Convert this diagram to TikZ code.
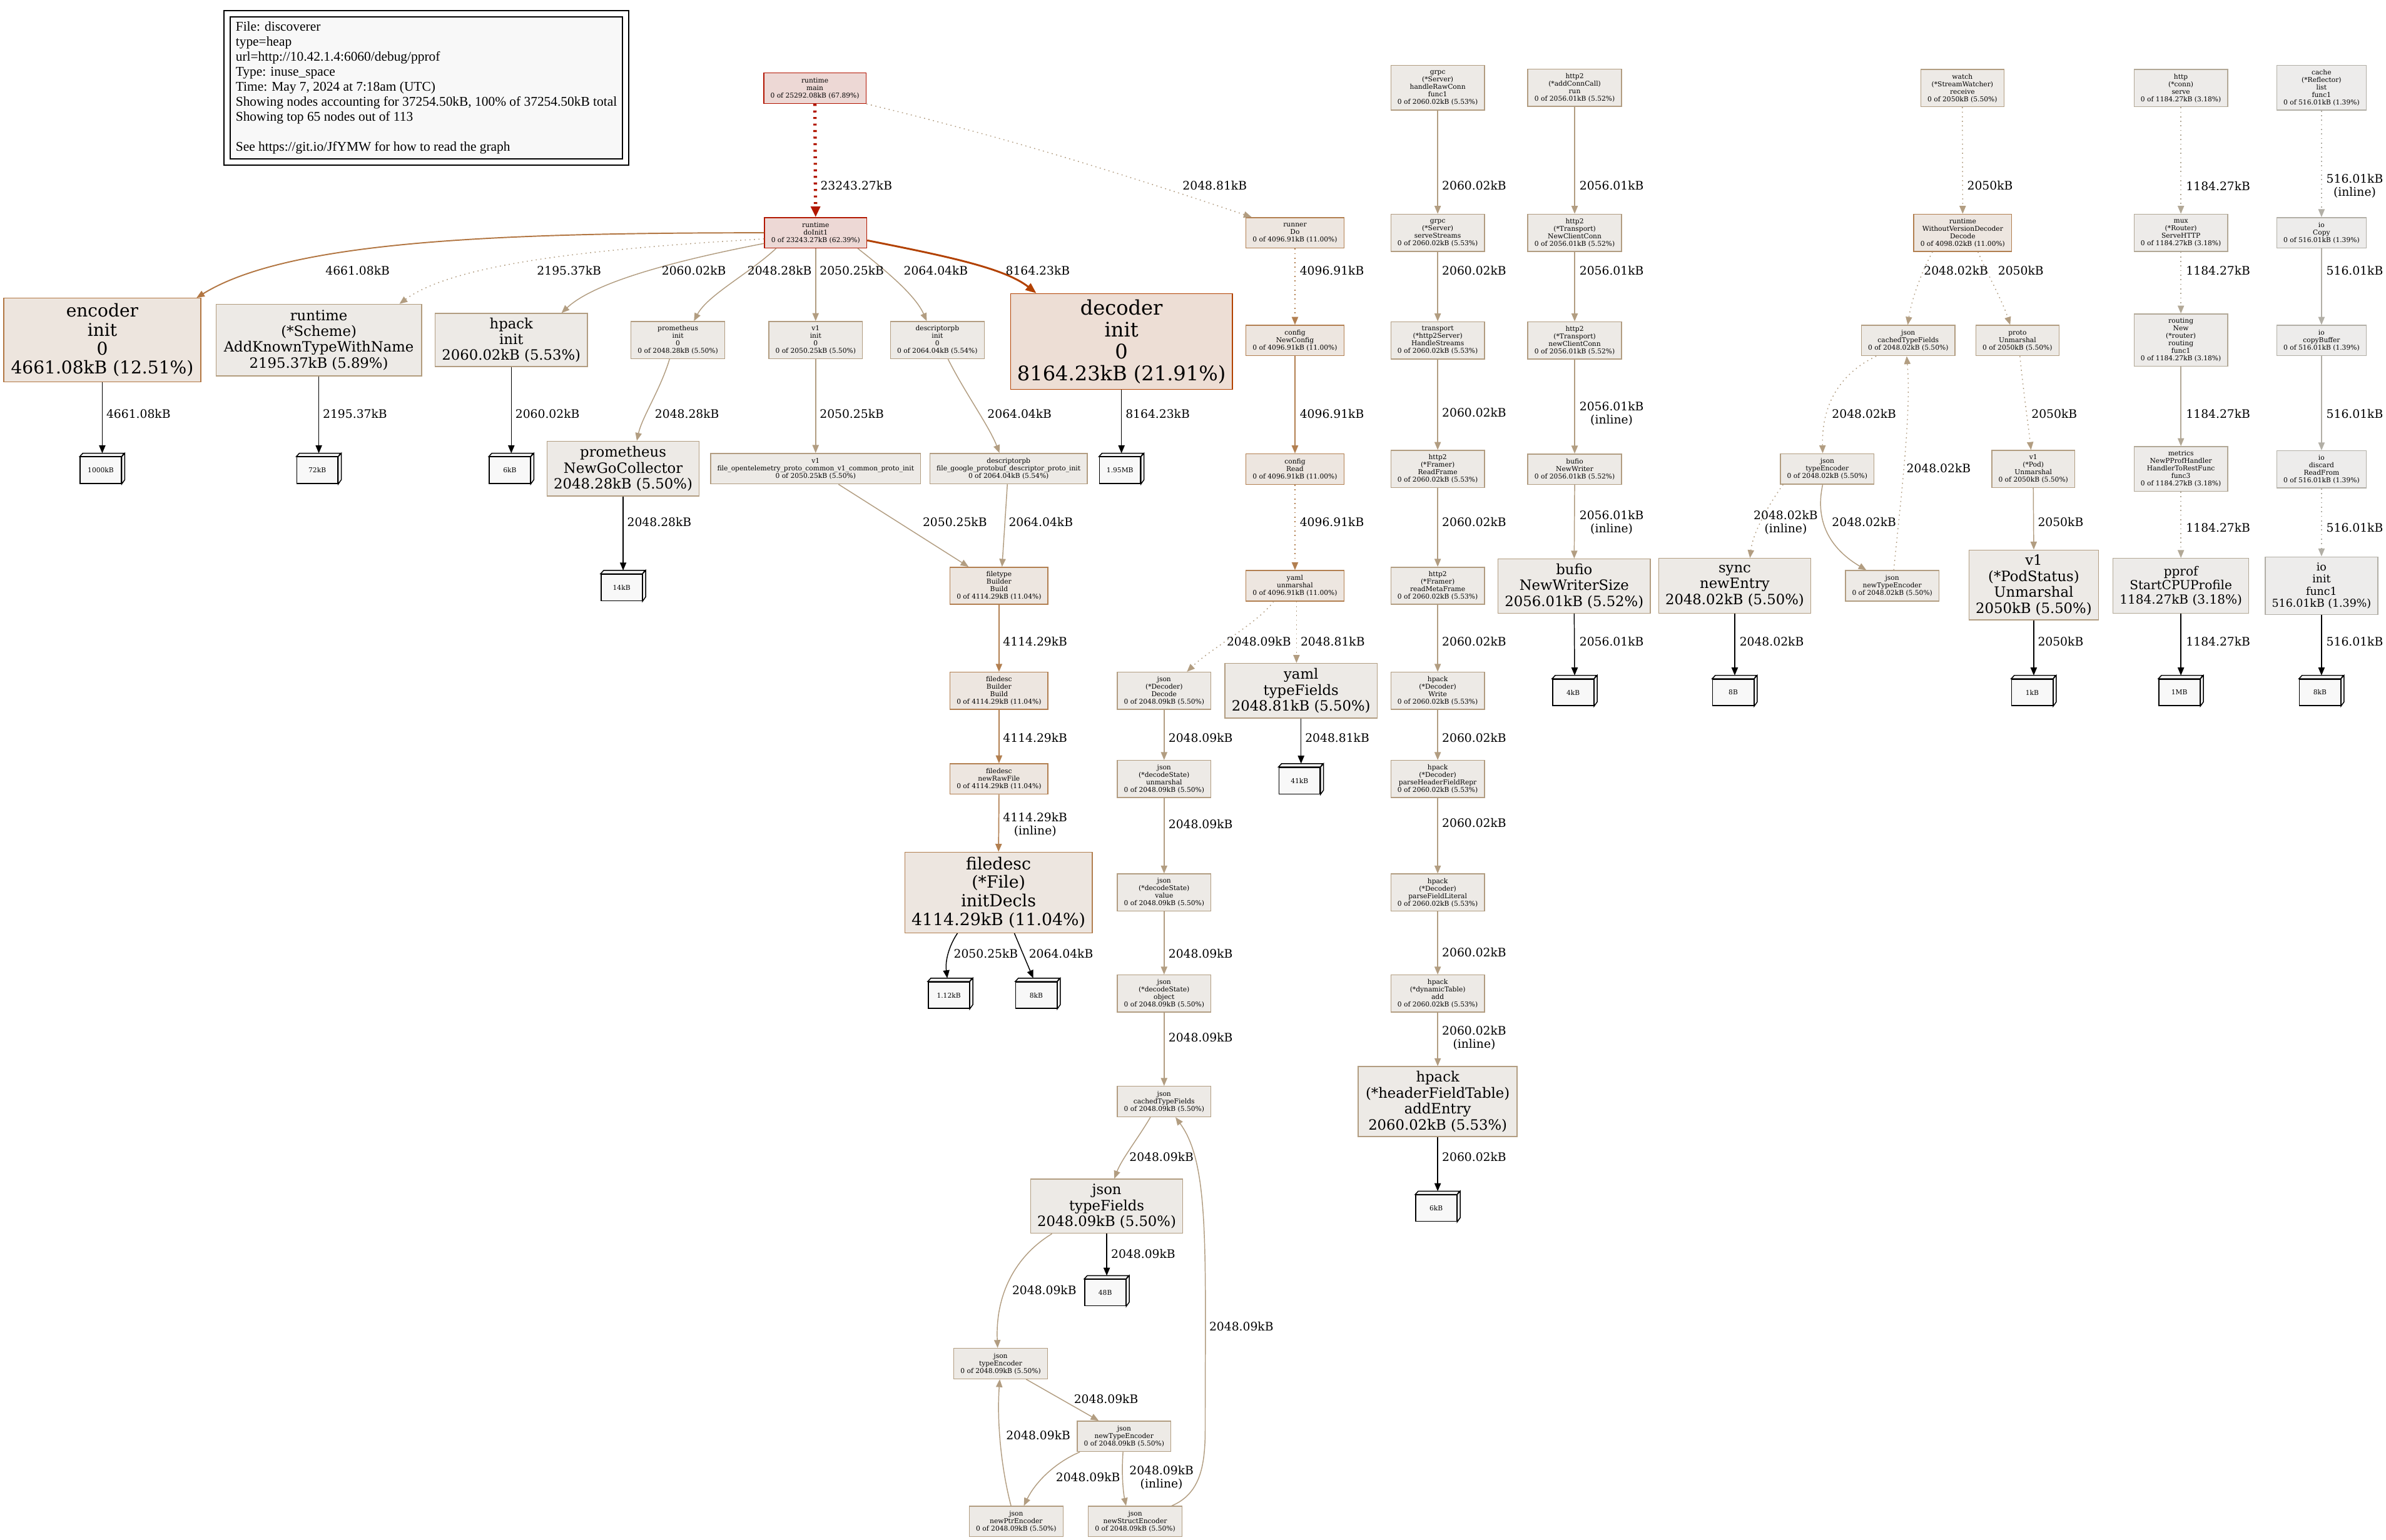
\documentclass[tikz,border=0pt]{standalone}
\usepackage{fontspec}
\setmainfont{DejaVu Serif}
\newfontfamily\legendfont{Liberation Serif}
\usetikzlibrary{arrows.meta,calc}
\definecolor{bgRed}{HTML}{EDD8D5}
\definecolor{fgMain}{HTML}{B21300}
\definecolor{fgDo}{HTML}{B21700}
\definecolor{bgDec}{HTML}{EDDED5}
\definecolor{fgDec}{HTML}{B24100}
\definecolor{bgEnc}{HTML}{EDE5DE}
\definecolor{fgEnc}{HTML}{B27642}
\definecolor{bgEl}{HTML}{EDE6E0}
\definecolor{fgEl}{HTML}{B27F50}
\definecolor{bgFive}{HTML}{EDEAE6}
\definecolor{fgFive}{HTML}{B29D81}
\definecolor{fgSix}{HTML}{B29C7D}
\definecolor{bgThree}{HTML}{EDEBE9}
\definecolor{fgThree}{HTML}{B2A896}
\definecolor{bgOne}{HTML}{EDECEB}
\definecolor{fgOne}{HTML}{B2AFA6}
\definecolor{leafFill}{HTML}{F8F8F8}
\tikzset{
  sn/.style={draw, rectangle, align=center, font=\fontsize{4.4}{4.93}\selectfont, inner xsep=4.4pt, inner ysep=2pt, line width=0.6pt, minimum height=20pt},
  bn/.style={draw, rectangle, align=center, inner xsep=4.4pt, inner ysep=2pt, line width=0.6pt},
  hfour/.style={minimum height=24.4pt},
  hfive/.style={minimum height=29.4pt},
  hsix/.style={minimum height=34.3pt},
  cMain/.style={fill=bgRed, draw=fgMain},
  cDo/.style={fill=bgRed, draw=fgDo},
  cDec/.style={fill=bgDec, draw=fgDec},
  cEnc/.style={fill=bgEnc, draw=fgEnc},
  cEl/.style={fill=bgEl, draw=fgEl},
  cFive/.style={fill=bgFive, draw=fgFive},
  cSix/.style={fill=bgFive, draw=fgSix},
  cThree/.style={fill=bgThree, draw=fgThree},
  cOne/.style={fill=bgOne, draw=fgOne},
  leaff/.style={draw=black, fill=leafFill, rectangle, line width=0.6pt, minimum width=27pt, minimum height=17.4pt, inner sep=0pt, font=\fontsize{4.4}{4.93}\selectfont},
  leafl/.style={draw=black, fill=leafFill, line width=0.6pt, line join=miter},
  el/.style={font=\fontsize{7.7}{8.6}\selectfont, inner sep=0pt, align=center},
  ed/.style={-{Triangle[length=5.2pt,width=4.2pt]}, line width=0.6pt},
  dots/.style={dash pattern=on 0.7pt off 2.3pt},
  eRed/.style={ed, draw=fgDo, line width=2.2pt, dash pattern=on 1.3pt off 3pt, -{Triangle[length=7pt,width=6pt]}},
  eDec/.style={ed, draw=fgDec, line width=1.2pt, -{Triangle[length=7pt,width=5.5pt]}},
  eEnc/.style={ed, draw=fgEnc, line width=0.8pt},
  eEl/.style={ed, draw=fgEl, line width=0.7pt},
  eFive/.style={ed, draw=fgFive},
  eThree/.style={ed, draw=fgThree},
  eOne/.style={ed, draw=fgOne},
  eLeaf/.style={ed, draw=black},
}
\newcommand{\leafbox}[4]{%
  \node[leaff] (#1) at ($(#2,#3)+(-1,1.1)$) {#4};
  \draw[leafl] (#1.north west) -- ++(2,-2.2) -- ++(27,0) -- (#1.north east) -- cycle;
  \draw[leafl] (#1.north east) -- ++(2,-2.2) -- ++(0,17.4) -- (#1.south east) -- cycle;
  \coordinate (#1-top) at ($(#1.north)+(1,-2.2)$);
}
\begin{document}
\begin{tikzpicture}[x=1pt,y=-1pt]
\useasboundingbox (0,0) rectangle (1568,1012);
\fill[white] (0,0) rectangle (1568,1012);

% legend
\node[draw=black, fill=leafFill, line width=0.6pt, align=left, inner xsep=3.6pt, inner ysep=3pt,
      font=\legendfont\fontsize{8.8}{9.9}\selectfont] (legend) at (280.2,57.75)
 {File: discoverer\\type=heap\\url=http://10.42.1.4:6060/debug/pprof\\Type: inuse\_space\\Time: May 7, 2024 at 7:18am (UTC)\\Showing nodes accounting for 37254.50kB, 100\% of 37254.50kB total\\Showing top 65 nodes out of 113\\\mbox{}\\See https://git.io/JfYMW for how to read the graph};
\draw[black, line width=0.8pt] ($(legend.north west)+(-3.7,-3.7)$) rectangle ($(legend.south east)+(3.7,3.7)$);

% ---------- small nodes ----------
\node[sn,cMain] (main) at (535.5,58) {runtime\\main\\0 of 25292.08kB (67.89\%)};
\node[sn,cDo] (doInit1) at (536,153) {runtime\\doInit1\\0 of 23243.27kB (62.39\%)};
\node[sn,cEl] (runner) at (851,153) {runner\\Do\\0 of 4096.91kB (11.00\%)};
\node[sn,cFive,hfour] (promInit) at (445.5,223.5) {prometheus\\init\\0\\0 of 2048.28kB (5.50\%)};
\node[sn,cFive,hfour] (v1init) at (536,223.5) {v1\\init\\0\\0 of 2050.25kB (5.50\%)};
\node[sn,cFive,hfour] (descInit) at (616,223.5) {descriptorpb\\init\\0\\0 of 2064.04kB (5.54\%)};
\node[sn,cEl] (newConfig) at (851,223.8) {config\\NewConfig\\0 of 4096.91kB (11.00\%)};
\node[sn,cEl] (cfgRead) at (851,308.3) {config\\Read\\0 of 4096.91kB (11.00\%)};
\node[sn,cEl] (yamlUnm) at (851,385) {yaml\\unmarshal\\0 of 4096.91kB (11.00\%)};
\node[sn,cFive] (v1file) at (536,308) {v1\\file\_opentelemetry\_proto\_common\_v1\_common\_proto\_init\\0 of 2050.25kB (5.50\%)};
\node[sn,cFive] (descFile) at (662.8,308) {descriptorpb\\file\_google\_protobuf\_descriptor\_proto\_init\\0 of 2064.04kB (5.54\%)};
\node[sn,cEl,hfour] (filetype) at (656.5,385) {filetype\\Builder\\Build\\0 of 4114.29kB (11.04\%)};
\node[sn,cEl,hfour] (fdBuild) at (656.5,454) {filedesc\\Builder\\Build\\0 of 4114.29kB (11.04\%)};
\node[sn,cEl] (fdRaw) at (656.5,512) {filedesc\\newRawFile\\0 of 4114.29kB (11.04\%)};
\node[sn,cFive,hfour] (jDecode) at (765,454) {json\\(*Decoder)\\Decode\\0 of 2048.09kB (5.50\%)};
\node[sn,cFive,hfour] (jUnm) at (765,512) {json\\(*decodeState)\\unmarshal\\0 of 2048.09kB (5.50\%)};
\node[sn,cFive,hfour] (jValue) at (765,586.6) {json\\(*decodeState)\\value\\0 of 2048.09kB (5.50\%)};
\node[sn,cFive,hfour] (jObject) at (765,653) {json\\(*decodeState)\\object\\0 of 2048.09kB (5.50\%)};
\node[sn,cFive] (jCached) at (765,724) {json\\cachedTypeFields\\0 of 2048.09kB (5.50\%)};
\node[sn,cFive] (jTE) at (657.6,896.2) {json\\typeEncoder\\0 of 2048.09kB (5.50\%)};
\node[sn,cFive] (jNTE) at (738.7,944) {json\\newTypeEncoder\\0 of 2048.09kB (5.50\%)};
\node[sn,cFive] (jPtr) at (667.8,1000) {json\\newPtrEncoder\\0 of 2048.09kB (5.50\%)};
\node[sn,cFive] (jStruct) at (746,1000) {json\\newStructEncoder\\0 of 2048.09kB (5.50\%)};
\node[sn,cFive,hfive] (grpc1) at (944.8,57.7) {grpc\\(*Server)\\handleRawConn\\func1\\0 of 2060.02kB (5.53\%)};
\node[sn,cFive,hfour] (grpc2) at (944.8,153) {grpc\\(*Server)\\serveStreams\\0 of 2060.02kB (5.53\%)};
\node[sn,cFive,hfour] (transp) at (944.8,223.7) {transport\\(*http2Server)\\HandleStreams\\0 of 2060.02kB (5.53\%)};
\node[sn,cFive,hfour] (readFrame) at (944.8,308.2) {http2\\(*Framer)\\ReadFrame\\0 of 2060.02kB (5.53\%)};
\node[sn,cFive,hfour] (readMeta) at (944.8,385) {http2\\(*Framer)\\readMetaFrame\\0 of 2060.02kB (5.53\%)};
\node[sn,cFive,hfour] (hWrite) at (944.8,454) {hpack\\(*Decoder)\\Write\\0 of 2060.02kB (5.53\%)};
\node[sn,cFive,hfour] (hParseHFR) at (944.8,512) {hpack\\(*Decoder)\\parseHeaderFieldRepr\\0 of 2060.02kB (5.53\%)};
\node[sn,cFive,hfour] (hParseFL) at (944.8,586.6) {hpack\\(*Decoder)\\parseFieldLiteral\\0 of 2060.02kB (5.53\%)};
\node[sn,cFive,hfour] (hDynAdd) at (944.8,653) {hpack\\(*dynamicTable)\\add\\0 of 2060.02kB (5.53\%)};
\node[sn,cFive,hfour] (addConn) at (1034.8,57.7) {http2\\(*addConnCall)\\run\\0 of 2056.01kB (5.52\%)};
\node[sn,cFive,hfour] (newCC) at (1034.8,153) {http2\\(*Transport)\\NewClientConn\\0 of 2056.01kB (5.52\%)};
\node[sn,cFive,hfour] (newccB) at (1034.8,223.7) {http2\\(*Transport)\\newClientConn\\0 of 2056.01kB (5.52\%)};
\node[sn,cFive] (bufNW) at (1034.8,308.4) {bufio\\NewWriter\\0 of 2056.01kB (5.52\%)};
\node[sn,cFive,hfour] (watch) at (1289.6,57.9) {watch\\(*StreamWatcher)\\receive\\0 of 2050kB (5.50\%)};
\node[sn,cEl,hfour] (wvd) at (1289.8,153) {runtime\\WithoutVersionDecoder\\Decode\\0 of 4098.02kB (11.00\%)};
\node[sn,cFive] (jCachedB) at (1254,223.8) {json\\cachedTypeFields\\0 of 2048.02kB (5.50\%)};
\node[sn,cFive] (protoUnm) at (1325.8,223.8) {proto\\Unmarshal\\0 of 2050kB (5.50\%)};
\node[sn,cFive] (jTEB) at (1200.8,308.2) {json\\typeEncoder\\0 of 2048.02kB (5.50\%)};
\node[sn,cFive,hfour] (podUnm) at (1336.2,308.2) {v1\\(*Pod)\\Unmarshal\\0 of 2050kB (5.50\%)};
\node[sn,cFive] (jNTEB) at (1243.5,385) {json\\newTypeEncoder\\0 of 2048.02kB (5.50\%)};
\node[sn,cThree,hfour] (httpServe) at (1433.2,57.9) {http\\(*conn)\\serve\\0 of 1184.27kB (3.18\%)};
\node[sn,cThree,hfour] (mux) at (1433.2,153) {mux\\(*Router)\\ServeHTTP\\0 of 1184.27kB (3.18\%)};
\node[sn,cThree,hsix] (routing) at (1433.2,223.5) {routing\\New\\(*router)\\routing\\func1\\0 of 1184.27kB (3.18\%)};
\node[sn,cThree,hfive] (metrics) at (1433.2,308.2) {metrics\\NewPProfHandler\\HandlerToRestFunc\\func3\\0 of 1184.27kB (3.18\%)};
\node[sn,cOne,hfive] (cache) at (1525.6,57.7) {cache\\(*Reflector)\\list\\func1\\0 of 516.01kB (1.39\%)};
\node[sn,cOne] (ioCopy) at (1525.6,153) {io\\Copy\\0 of 516.01kB (1.39\%)};
\node[sn,cOne] (ioCB) at (1525.6,223.8) {io\\copyBuffer\\0 of 516.01kB (1.39\%)};
\node[sn,cOne,hfour] (ioDisc) at (1525.6,308.5) {io\\discard\\ReadFrom\\0 of 516.01kB (1.39\%)};

% ---------- big nodes ----------
\node[bn,cEnc,minimum width=129.5pt,minimum height=55pt,font=\fontsize{11.55}{12.4}\selectfont] (encoder) at (67.2,223.5) {encoder\\init\\0\\4661.08kB (12.51\%)};
\node[bn,cSix,minimum width=135pt,minimum height=47pt,font=\fontsize{9.35}{10.45}\selectfont] (scheme) at (209.5,223.5) {runtime\\(*Scheme)\\AddKnownTypeWithName\\2195.37kB (5.89\%)};
\node[bn,cFive,minimum width=98pt,minimum height=35pt,font=\fontsize{9.35}{10.45}\selectfont] (hpackInit) at (336,223.5) {hpack\\init\\2060.02kB (5.53\%)};
\node[bn,cDec,minimum width=144pt,minimum height=63pt,font=\fontsize{13.2}{14.4}\selectfont] (decoder) at (737,224.5) {decoder\\init\\0\\8164.23kB (21.91\%)};
\node[bn,cFive,minimum width=99pt,minimum height=36pt,font=\fontsize{9.35}{10.45}\selectfont] (promNGC) at (409.5,308) {prometheus\\NewGoCollector\\2048.28kB (5.50\%)};
\node[bn,cEl,minimum width=122.5pt,minimum height=53pt,font=\fontsize{11}{12.3}\selectfont] (initDecls) at (656.2,586.6) {filedesc\\(*File)\\initDecls\\4114.29kB (11.04\%)};
\node[bn,cFive,minimum width=98.6pt,minimum height=36pt,font=\fontsize{9.35}{10.45}\selectfont] (yamlTF) at (855,454) {yaml\\typeFields\\2048.81kB (5.50\%)};
\node[bn,cFive,minimum width=98.6pt,minimum height=35.6pt,font=\fontsize{9.35}{10.45}\selectfont] (jTF) at (727.3,792.8) {json\\typeFields\\2048.09kB (5.50\%)};
\node[bn,cFive,minimum width=104.4pt,minimum height=46pt,font=\fontsize{9.35}{10.45}\selectfont] (addEntry) at (944.8,724) {hpack\\(*headerFieldTable)\\addEntry\\2060.02kB (5.53\%)};
\node[bn,cFive,minimum width=99pt,minimum height=35.6pt,font=\fontsize{9.35}{10.45}\selectfont] (nws) at (1034.5,385.2) {bufio\\NewWriterSize\\2056.01kB (5.52\%)};
\node[bn,cFive,minimum height=36pt,font=\fontsize{9.35}{10.45}\selectfont] (syncNE) at (1140,385) {sync\\newEntry\\2048.02kB (5.50\%)};
\node[bn,cFive,minimum width=85pt,minimum height=46pt,font=\fontsize{9.35}{10.45}\selectfont] (podStatus) at (1336.5,384.5) {v1\\(*PodStatus)\\Unmarshal\\2050kB (5.50\%)};
\node[bn,cThree,minimum height=36pt,font=\fontsize{8.25}{9.25}\selectfont] (pprof) at (1433.2,385) {pprof\\StartCPUProfile\\1184.27kB (3.18\%)};
\node[bn,cOne,minimum height=38pt,font=\fontsize{7.15}{8}\selectfont] (ioInit) at (1525.6,385) {io\\init\\func1\\516.01kB (1.39\%)};

% ---------- leaves ----------
\leafbox{lA}{67.2}{308}{1000kB}
\leafbox{lB}{209.5}{308}{72kB}
\leafbox{lC}{336}{308}{6kB}
\leafbox{lD}{737}{308}{1.95MB}
\leafbox{lE}{409.5}{385}{14kB}
\leafbox{lF}{855}{512}{41kB}
\leafbox{lG}{624.5}{653}{1.12kB}
\leafbox{lH}{682}{653}{8kB}
\leafbox{lI}{727.3}{848.5}{48B}
\leafbox{lJ}{944.8}{793}{6kB}
\leafbox{lK}{1034.8}{454}{4kB}
\leafbox{lL}{1140}{454}{8B}
\leafbox{lM}{1336.5}{454}{1kB}
\leafbox{lN}{1433.2}{454}{1MB}
\leafbox{lO}{1525.6}{454}{8kB}

% ---------- edges ----------
\draw[eRed] (main.south) -- (doInit1.north);
\draw[eFive,dots] (main.south east) .. controls (660,90) and (740,115) .. ($(runner.north west)+(4,0)$);
\draw[eEnc] (doInit1.west) .. controls (330,153) and (190,158) .. ($(encoder.north)+(62,0)$);
\draw[eFive,dots] ($(doInit1.west)+(0,4)$) .. controls (400,163) and (300,172) .. ($(scheme.north)+(53,0)$);
\draw[eFive] ($(doInit1.west)+(0,7)$) .. controls (440,172) and (390,186) .. ($(hpackInit.north)+(33,0)$);
\draw[eFive] ($(doInit1.south)+(-26,0)$) .. controls (492,180) and (465,194) .. ($(promInit.north)+(10.5,0)$);
\draw[eFive] (doInit1.south) -- (v1init.north);
\draw[eFive] ($(doInit1.south)+(27.7,0)$) .. controls (585,180) and (602,195) .. ($(descInit.north)+(-7,0)$);
\draw[eDec] ($(doInit1.east)+(0,5)$) .. controls (620,168) and (660,176) .. ($(decoder.north)+(-56,0)$);

\draw[eLeaf] (encoder.south) -- (lA-top);
\draw[eLeaf] (scheme.south) -- (lB-top);
\draw[eLeaf] (hpackInit.south) -- (lC-top);
\draw[eLeaf] (decoder.south) -- (lD-top);
\draw[eFive] ($(promInit.south)+(-5.5,0)$) .. controls (434,256) and (422,274) .. ($(promNGC.north)+(9,0)$);
\draw[eFive] (v1init.south) -- (v1file.north);
\draw[eFive] ($(descInit.south)+(7,0)$) .. controls (634,258) and (650,280) .. ($(descFile.north)+(-6,0)$);
\draw[eEl,dots] (runner.south) -- (newConfig.north);
\draw[eEl] (newConfig.south) -- (cfgRead.north);
\draw[eEl,dots] (cfgRead.south) -- (yamlUnm.north);

\draw[eLeaf] (promNGC.south) -- (lE-top);
\draw[eFive] ($(v1file.south)+(15,0)$) -- ($(filetype.north)+(-20,0)$);
\draw[eFive] ($(descFile.south)+(-0.8,0)$) -- ($(filetype.north)+(2,0)$);
\draw[eEl] (filetype.south) -- (fdBuild.north);
\draw[eEl] (fdBuild.south) -- (fdRaw.north);
\draw[eEl] (fdRaw.south) -- (initDecls.north);
\draw[eLeaf] ($(initDecls.south)+(-27,0)$) .. controls (624,621) and (621,631) .. ($(lG-top)+(-2,0)$);
\draw[eLeaf] ($(initDecls.south)+(10.4,0)$) -- ($(lH-top)+(-3,0)$);

\draw[eFive,dots] ($(yamlUnm.south)+(-14,0)$) .. controls (826,410) and (796,426) .. ($(jDecode.north)+(15,0)$);
\draw[eFive,dots] ($(yamlUnm.south)+(1,0)$) -- ($(yamlTF.north)+(-3,0)$);
\draw[eLeaf] (yamlTF.south) -- (lF-top);

\draw[eFive] (jDecode.south) -- (jUnm.north);
\draw[eFive] (jUnm.south) -- (jValue.north);
\draw[eFive] (jValue.south) -- (jObject.north);
\draw[eFive] (jObject.south) -- (jCached.north);
\draw[eFive] ($(jCached.south)+(-9,0)$) .. controls (748,748) and (737,762) .. ($(jTF.north)+(5,0)$);
\draw[eLeaf] (jTF.south) -- (lI-top);
\draw[eFive] ($(jTF.south)+(-36,0)$) .. controls (668,825) and (654,850) .. ($(jTE.north)+(-2,0)$);
\draw[eFive] ($(jTE.south)+(16.7,0)$) -- ($(jNTE.north)+(-16.7,0)$);
\draw[eFive] ($(jNTE.south west)+(2,0)$) .. controls (692,962) and (680,975) .. ($(jPtr.north)+(5,0)$);
\draw[eFive] ($(jPtr.north)+(-3.4,0)$) .. controls (658,965) and (655,935) .. ($(jTE.south)+(-0.6,0)$);
\draw[eFive] ($(jNTE.south)+(-0.7,0)$) .. controls (737,968) and (738,980) .. ($(jStruct.north)+(-6,0)$);
\draw[eFive] ($(jStruct.north)+(24,0)$) .. controls (788,982) and (792,965) .. (792,940) .. controls (792,820) and (795,765) .. ($(jCached.south)+(7.5,0)$);

\draw[eFive] (grpc1.south) -- (grpc2.north);
\draw[eFive] (grpc2.south) -- (transp.north);
\draw[eFive] (transp.south) -- (readFrame.north);
\draw[eFive] (readFrame.south) -- (readMeta.north);
\draw[eFive] (readMeta.south) -- (hWrite.north);
\draw[eFive] (hWrite.south) -- (hParseHFR.north);
\draw[eFive] (hParseHFR.south) -- (hParseFL.north);
\draw[eFive] (hParseFL.south) -- (hDynAdd.north);
\draw[eFive] (hDynAdd.south) -- (addEntry.north);
\draw[eLeaf] (addEntry.south) -- (lJ-top);

\draw[eFive] (addConn.south) -- (newCC.north);
\draw[eFive] (newCC.south) -- (newccB.north);
\draw[eFive] (newccB.south) -- (bufNW.north);
\draw[eFive] (bufNW.south) -- (nws.north);
\draw[eLeaf] (nws.south) -- (lK-top);

\draw[eFive,dots] (watch.south) -- (wvd.north);
\draw[eFive,dots] ($(wvd.south)+(-19.8,0)$) .. controls (1262,180) and (1256,198) .. ($(jCachedB.north)+(-0.3,0)$);
\draw[eFive,dots] ($(wvd.south)+(10,0)$) .. controls (1306,180) and (1316,198) .. ($(protoUnm.north)+(-4.8,0)$);
\draw[eFive,dots] ($(jCachedB.south)+(-21,0)$) .. controls (1210,245) and (1197,265) .. ($(jTEB.north)+(-3,0)$);
\draw[eFive,dots] ($(jTEB.south)+(-29,0)$) .. controls (1162,332) and (1152,350) .. ($(syncNE.north)+(10,0)$);
\draw[eFive] ($(jTEB.south)+(-3,0)$) .. controls (1192,345) and (1205,362) .. ($(jNTEB.north)+(-17,0)$);
\draw[eFive,dots] ($(jNTEB.north)+(1,0)$) .. controls (1250,320) and (1256,270) .. ($(jCachedB.south)+(-1,0)$);
\draw[eFive,dots] ($(protoUnm.south)+(1.6,0)$) .. controls (1330,260) and (1333,280) .. ($(podUnm.north)+(-1.5,0)$);
\draw[eFive] (podUnm.south) -- (podStatus.north);
\draw[eLeaf] (syncNE.south) -- (lL-top);
\draw[eLeaf] (podStatus.south) -- (lM-top);

\draw[eThree,dots] (httpServe.south) -- (mux.north);
\draw[eThree,dots] (mux.south) -- (routing.north);
\draw[eThree] (routing.south) -- (metrics.north);
\draw[eThree,dots] (metrics.south) -- (pprof.north);
\draw[eLeaf] (pprof.south) -- (lN-top);

\draw[eOne,dots] (cache.south) -- (ioCopy.north);
\draw[eOne] (ioCopy.south) -- (ioCB.north);
\draw[eOne] (ioCB.south) -- (ioDisc.north);
\draw[eOne,dots] (ioDisc.south) -- (ioInit.north);
\draw[eLeaf] (ioInit.south) -- (lO-top);

% ---------- edge labels ----------
\node[el,anchor=west] (t01) at (539,122) {23243.27kB};
\node[el,anchor=west] (t02) at (777,122) {2048.81kB};
\node[el,anchor=west] (t03) at (947.5,122) {2060.02kB};
\node[el,anchor=west] (t04) at (1037.8,122) {2056.01kB};
\node[el,anchor=west] (t05) at (1292.6,122) {2050kB};
\node[el,anchor=west] (t06) at (1436.4,122.4) {1184.27kB};
\node[el,anchor=west] (t07) at (1528.6,122.4) {516.01kB\\(inline)};

\node[el] (t08) at (235,178) {4661.08kB};
\node[el] (t09) at (374,178) {2195.37kB};
\node[el] (t10) at (456,178) {2060.02kB};
\node[el] (t11) at (512.3,178) {2048.28kB};
\node[el,anchor=west] (t12) at (538.5,178) {2050.25kB};
\node[el] (t13) at (615,178) {2064.04kB};
\node[el] (t14) at (682,178) {8164.23kB};
\node[el,anchor=west] (t15) at (854,178) {4096.91kB};
\node[el,anchor=west] (t16) at (947.5,178) {2060.02kB};
\node[el,anchor=west] (t17) at (1037.8,178) {2056.01kB};
\node[el] (t18) at (1285.4,178) {2048.02kB};
\node[el] (t19) at (1328,178) {2050kB};
\node[el,anchor=west] (t20) at (1436.4,178) {1184.27kB};
\node[el,anchor=west] (t21) at (1528.6,178) {516.01kB};

\node[el,anchor=west] (t22) at (69.7,272) {4661.08kB};
\node[el,anchor=west] (t23) at (212,272) {2195.37kB};
\node[el,anchor=west] (t24) at (338.5,272) {2060.02kB};
\node[el] (t25) at (451.5,272) {2048.28kB};
\node[el,anchor=west] (t26) at (538.5,272) {2050.25kB};
\node[el] (t27) at (670,272) {2064.04kB};
\node[el,anchor=west] (t28) at (739.5,272) {8164.23kB};
\node[el,anchor=west] (t29) at (854,272) {4096.91kB};
\node[el,anchor=west] (t30) at (947.5,271) {2060.02kB};
\node[el,anchor=west] (t31) at (1037.8,271.8) {2056.01kB\\(inline)};
\node[el] (t32) at (1225,272) {2048.02kB};
\node[el] (t33) at (1350,272) {2050kB};
\node[el,anchor=west] (t34) at (1436.4,271.8) {1184.27kB};
\node[el,anchor=west] (t35) at (1528.6,271.8) {516.01kB};
\node[el] (t36) at (1274,307.8) {2048.02kB};

\node[el,anchor=west] (t37) at (412,343) {2048.28kB};
\node[el] (t38) at (627.5,343) {2050.25kB};
\node[el] (t39) at (684,343) {2064.04kB};
\node[el,anchor=west] (t40) at (854,343) {4096.91kB};
\node[el,anchor=west] (t41) at (947.5,343) {2060.02kB};
\node[el,anchor=west] (t42) at (1037.8,343.3) {2056.01kB\\(inline)};
\node[el] (t43) at (1173.5,343.3) {2048.02kB\\(inline)};
\node[el] (t44) at (1225,343) {2048.02kB};
\node[el,anchor=west] (t45) at (1339,343) {2050kB};
\node[el,anchor=west] (t46) at (1436.4,346.7) {1184.27kB};
\node[el,anchor=west] (t47) at (1528.6,346.7) {516.01kB};

\node[el,anchor=west] (t48) at (659,421.5) {4114.29kB};
\node[el,anchor=west] (t49) at (806,421.5) {2048.09kB};
\node[el,anchor=west] (t50) at (854.5,421.5) {2048.81kB};
\node[el,anchor=west] (t51) at (947.5,421.5) {2060.02kB};
\node[el,anchor=west] (t52) at (1037.8,421.5) {2056.01kB};
\node[el,anchor=west] (t53) at (1143,421.5) {2048.02kB};
\node[el,anchor=west] (t54) at (1339,421.5) {2050kB};
\node[el,anchor=west] (t55) at (1436.4,421.5) {1184.27kB};
\node[el,anchor=west] (t56) at (1528.6,421.5) {516.01kB};

\node[el,anchor=west] (t57) at (659,485) {4114.29kB};
\node[el,anchor=west] (t58) at (767.7,485) {2048.09kB};
\node[el,anchor=west] (t59) at (857.5,485) {2048.81kB};
\node[el,anchor=west] (t60) at (947.5,485) {2060.02kB};

\node[el,anchor=west] (t61) at (659,541.8) {4114.29kB\\(inline)};
\node[el,anchor=west] (t62) at (767.7,541.6) {2048.09kB};
\node[el,anchor=west] (t63) at (947.5,541) {2060.02kB};

\node[el,anchor=west] (t64) at (626.6,626.6) {2050.25kB};
\node[el,anchor=west] (t65) at (676,626.6) {2064.04kB};
\node[el,anchor=west] (t66) at (767.7,626.6) {2048.09kB};
\node[el,anchor=west] (t67) at (947.5,626) {2060.02kB};

\node[el,anchor=west] (t68) at (767.7,682) {2048.09kB};
\node[el,anchor=west] (t69) at (947.5,682.3) {2060.02kB\\(inline)};

\node[el,anchor=west] (t70) at (742,760.5) {2048.09kB};
\node[el,anchor=west] (t71) at (947.5,760.5) {2060.02kB};
\node[el,anchor=west] (t72) at (730,824) {2048.09kB};
\node[el,anchor=west] (t73) at (665,848) {2048.09kB};
\node[el,anchor=west] (t74) at (794.5,871.7) {2048.09kB};
\node[el,anchor=west] (t75) at (705.6,919.4) {2048.09kB};
\node[el,anchor=west] (t76) at (661,943.3) {2048.09kB};
\node[el,anchor=west] (t77) at (693.7,971) {2048.09kB};
\node[el,anchor=west] (t78) at (742,971.3) {2048.09kB\\(inline)};
\end{tikzpicture}
\end{document}
